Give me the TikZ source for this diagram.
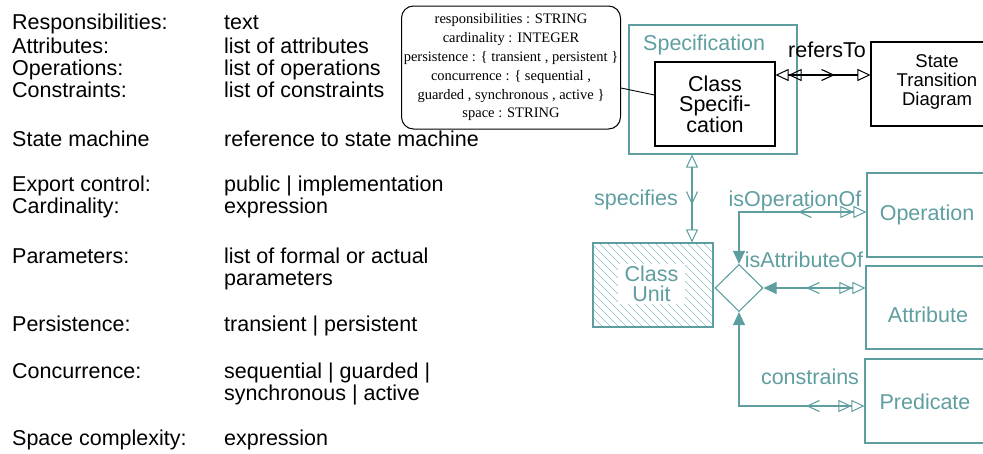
\documentclass[tikz,border=0pt]{standalone}
\usepackage{fontspec}
\setmainfont{Liberation Sans}
\newfontfamily\notefont{Liberation Serif}
\usetikzlibrary{arrows.meta,shapes.geometric,decorations.markings}

\definecolor{tealc}{RGB}{95,158,160}
\definecolor{hatchc}{RGB}{140,190,192}

\tikzset{
  big/.style={font=\fontsize{21.5}{20.5}\selectfont},
  lbl/.style={big, anchor=base west, inner sep=0pt},
  rlbl/.style={big, anchor=base, inner sep=0pt, text=tealc},
  blackbox/.style={draw, line width=1.1pt, big, align=center, inner sep=0pt},
  tealbox/.style={draw=tealc, line width=1.1pt, inner sep=0pt},
  conn/.style={draw=tealc, line width=1.1pt},
  htri/.tip={Triangle[open, length=13pt, width=12pt, sep=0pt, line width=1pt]},
  ftri/.tip={Triangle[length=13pt, width=12pt]},
  % open "V" head placed part way along a connector, pointing along the path
  vmark/.style 2 args={decorate, decoration={markings, mark=at position #1 with {
      \draw[#2, line width=1.1pt, line join=miter] (-12pt,5.5pt) -- (0pt,0pt) -- (-12pt,-5.5pt);}}},
}

\begin{document}
\begin{tikzpicture}[x=1pt, y=-1pt]
\useasboundingbox (0,0) rectangle (983,453);

% property list
\node[lbl] (k1) at (12,29.5) {Responsibilities:};
\node[lbl] (k2) at (12,53.3) {Attributes:};
\node[lbl] (k3) at (12,75.3) {Operations:};
\node[lbl] (k4) at (12,97.7) {Constraints:};
\node[lbl] (k5) at (12,146.7) {State machine};
\node[lbl] (k6) at (12,191.7) {Export control:};
\node[lbl] (k7) at (12,213.3) {Cardinality:};
\node[lbl] (k8) at (12,263.3) {Parameters:};
\node[lbl] (k9) at (12,331.7) {Persistence:};
\node[lbl] (k10) at (12,378.3) {Concurrence:};
\node[lbl] (k11) at (12,445) {Space complexity:};

\node[lbl] (v1) at (224,29.5) {text};
\node[lbl] (v2) at (224,53.3) {list of attributes};
\node[lbl] (v3) at (224,75.3) {list of operations};
\node[lbl] (v4) at (224,97.7) {list of constraints};
\node[lbl] (v5) at (224,146.7) {reference to state machine};
\node[lbl] (v6) at (224,191.7) {public | implementation};
\node[lbl] (v7) at (224,213.3) {expression};
\node[lbl] (v8) at (224,263.3) {list of formal or actual};
\node[lbl] (v8b) at (224,285) {parameters};
\node[lbl] (v9) at (224,331.7) {transient | persistent};
\node[lbl] (v10) at (224,378.3) {sequential | guarded |};
\node[lbl] (v10b) at (224,400) {synchronous | active};
\node[lbl] (v11) at (224,445) {expression};

% note attached to the class specification
\node[draw, line width=1pt, rounded corners=12pt, minimum width=219pt, minimum height=123pt,
      align=center, inner sep=0pt,
      font=\notefont\fontsize{14.5}{18.8}\selectfont] (note) at (511,67.5)
  {responsibilities : STRING\\cardinality : INTEGER\\persistence : \{ transient , persistent \}\\
   concurrence : \{ sequential ,\\guarded , synchronous , active \}\\space : STRING};

% specification group
\node[tealbox, minimum width=168pt, minimum height=129pt] (spec) at (713,89.5) {};
\node[big, anchor=base west, inner sep=0pt, text=tealc] (spect) at (643,50) {Specification};
\node[blackbox, minimum width=120pt, minimum height=84pt] (cs) at (715,104) {Class\\Specifi-\\cation};
\node[draw, line width=1.1pt, minimum width=128pt, minimum height=84pt] (std) at (935,84) {};
\node[align=center, inner sep=0pt, font=\fontsize{18.5}{19}\selectfont] (stdt) at (937,82) {State\\Transition\\Diagram};

\draw[line width=0.9pt] ([yshift=-20.5pt]note.east) -- ([yshift=9pt]cs.west);

% refersTo
\draw[line width=1.1pt, {htri[]htri[]}-{htri}] ([yshift=29pt]cs.east) -- ([yshift=9pt]std.west);
\path[vmark={58pt}{black}] ([yshift=29pt]cs.east) -- ([yshift=9pt]std.west);
\node[big, anchor=base, inner sep=0pt] (reft) at (827,57) {refersTo};

% class unit with hatching
\node[tealbox, minimum width=120pt, minimum height=84pt,
      path picture={
        \foreach \k in {-90,-82,...,125}
          \draw[hatchc, line width=0.6pt] ([xshift=\k pt]path picture bounding box.north west) -- ++(100,100);
      }] (cu) at (653,285) {};
\node[fill=white, minimum width=67pt, minimum height=40pt, inner sep=0pt, align=center,
      text=tealc, font=\fontsize{21.5}{20}\selectfont] (cut) at (651.5,284) {Class\\Unit};

% related classes
\node[tealbox, minimum width=130pt, minimum height=84pt] (op) at (932,215) {};
\node[big, text=tealc, inner sep=0pt] (opt) at (927,215) {Operation};
\node[tealbox, minimum width=130pt, minimum height=83pt] (att) at (931,307.5) {};
\node[big, text=tealc, inner sep=0pt] (attt) at (928,315) {Attribute};
\node[tealbox, minimum width=130pt, minimum height=84pt] (pred) at (930,401) {};
\node[big, text=tealc, inner sep=0pt] (predt) at (925,402) {Predicate};

\node[diamond, draw=tealc, line width=1.1pt, minimum width=48pt, minimum height=47pt, inner sep=0pt] (dia) at (739,288) {};

% specifies
\draw[conn, {htri}-{htri}] ([xshift=-21pt]spec.south) -- ([xshift=39pt]cu.north);
\path[vmark={49pt}{tealc}] ([xshift=-21pt]spec.south) -- ([xshift=39pt]cu.north);
\node[rlbl] (spt) at (636,205) {specifies};

% isOperationOf
\draw[conn, {htri[]htri[]}-{ftri}] ([yshift=3pt]op.west) -| (dia.north);
\path[vmark={67pt}{tealc}] ([yshift=3pt]op.west) -| (dia.north);
\node[rlbl] (opl) at (795,206) {isOperationOf};

% isAttributeOf
\draw[conn, {htri[]htri[]}-{ftri}] (dia.east -| att.west) -- (dia.east);
\path[vmark={58pt}{tealc}] (dia.east -| att.west) -- (dia.east);
\node[rlbl] (attl) at (804,267) {isAttributeOf};

% constrains
\draw[conn, {htri[]htri[]}-{ftri}] ([yshift=-5pt]pred.west) -| (dia.south);
\path[vmark={57pt}{tealc}] ([yshift=-5pt]pred.west) -| (dia.south);
\node[rlbl] (conl) at (810,384) {constrains};
\end{tikzpicture}
\end{document}
